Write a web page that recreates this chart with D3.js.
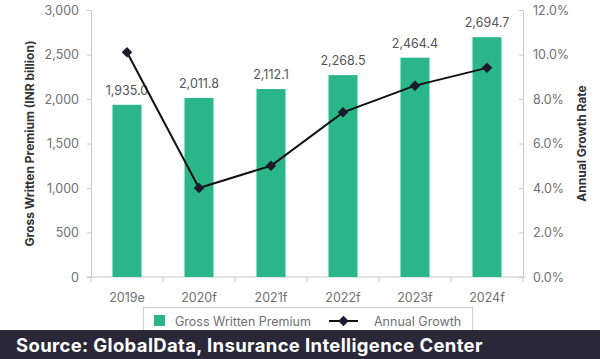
<!DOCTYPE html>
<html><head><meta charset="utf-8">
<script src="https://cdn.jsdelivr.net/npm/d3@7"></script>
<style>
html,body{margin:0;padding:0;background:#fff;}
svg{display:block;font-family:Inter, "Noto Sans", sans-serif;}
</style></head>
<body>
<script>
const categories = ["2019e","2020f","2021f","2022f","2023f","2024f"];
const premium = [1935.0, 2011.8, 2112.1, 2268.5, 2464.4, 2694.7];
const growth = [10.1, 4.0, 5.0, 7.4, 8.6, 9.4];
const leftTicks = [0,500,1000,1500,2000,2500,3000];
const rightTicks = [0,2,4,6,8,10,12];

const W=600,H=359;
const m={l:91,r:77,t:10,b:82};
const svg=d3.select("body").append("svg").attr("width",W).attr("height",H);
const xb=d3.scaleBand().domain(categories).range([m.l,W-m.r]);
const y=d3.scaleLinear().domain([0,3000]).range([H-m.b,m.t]);
const y2=d3.scaleLinear().domain([0,12]).range([H-m.b,m.t]);
const axisCol="#c8c8c8", txtCol="#707070";

// left axis
const ga=svg.append("g").attr("transform",`translate(${m.l},0)`)
  .call(d3.axisLeft(y).tickValues(leftTicks).tickFormat(d3.format(",")).tickSize(4).tickPadding(8));
ga.select(".domain").attr("stroke",axisCol);
ga.selectAll(".tick line").attr("stroke",axisCol);
ga.selectAll("text").attr("fill",txtCol).style("font-size","12.5px").style("font-family","Inter, sans-serif");

// right axis
const gr=svg.append("g").attr("transform",`translate(${W-m.r},0)`)
  .call(d3.axisRight(y2).tickValues(rightTicks).tickFormat(d=>d.toFixed(1)+"%").tickSize(0).tickPadding(10));
gr.select(".domain").attr("stroke",axisCol);
gr.selectAll(".tick").append("line").attr("x1",-4).attr("x2",0).attr("stroke",axisCol);
gr.selectAll("text").attr("fill",txtCol).style("font-size","12.5px").style("font-family","Inter, sans-serif");

// x axis
const gx=svg.append("g").attr("transform",`translate(0,${H-m.b})`);
gx.append("line").attr("x1",m.l-4).attr("x2",W-m.r+3).attr("stroke",axisCol);
gx.selectAll("line.bt").data(categories.concat(["end"])).enter().append("line").attr("class","bt")
  .attr("x1",(d,i)=>i<categories.length?xb(d):xb(categories[categories.length-1])+xb.bandwidth())
  .attr("x2",(d,i)=>i<categories.length?xb(d):xb(categories[categories.length-1])+xb.bandwidth())
  .attr("y1",0).attr("y2",5).attr("stroke",axisCol);
gx.selectAll("text").data(categories).enter().append("text")
  .attr("x",d=>xb(d)+xb.bandwidth()/2).attr("y",25).attr("text-anchor","middle")
  .attr("fill",txtCol).style("font-size","12.5px").text(d=>d);

// bars
svg.selectAll("rect.bar").data(premium).enter().append("rect").attr("class","bar")
  .attr("x",(d,i)=>xb(categories[i])+xb.bandwidth()/2-14.5).attr("width",29)
  .attr("y",d=>y(d)).attr("height",d=>y(0)-y(d)).attr("fill","#2bb68a");
svg.selectAll("text.lab").data(premium).enter().append("text").attr("class","lab")
  .attr("x",(d,i)=>xb(categories[i])+xb.bandwidth()/2).attr("y",d=>y(d)-10)
  .attr("text-anchor","middle").attr("fill","#555").style("font-size","12.5px")
  .text(d=>d3.format(",.1f")(d));

// line
const line=d3.line().x((d,i)=>xb(categories[i])+xb.bandwidth()/2).y(d=>y2(d));
svg.append("path").datum(growth).attr("d",line).attr("fill","none").attr("stroke","#111").attr("stroke-width",2);
svg.selectAll("path.pt").data(growth).enter().append("path").attr("class","pt")
  .attr("d",d3.symbol(d3.symbolDiamond2,70)())
  .attr("transform",(d,i)=>`translate(${xb(categories[i])+xb.bandwidth()/2},${y2(d)})`).attr("fill","#1a1a2a");

// axis titles
svg.append("text").attr("transform",`translate(34,${(m.t+H-m.b)/2}) rotate(-90)`)
  .attr("text-anchor","middle").attr("fill","#333").style("font-size","12px").style("font-weight","bold")
  .text("Gross Written Premium (INR billion)");
svg.append("text").attr("transform",`translate(586,${(m.t+H-m.b)/2}) rotate(-90)`)
  .attr("text-anchor","middle").attr("fill","#333").style("font-size","12px").style("font-weight","bold")
  .text("Annual Growth Rate");

// legend
svg.append("rect").attr("x",143.5).attr("y",307.5).attr("width",329).attr("height",30).attr("fill","#fff").attr("stroke","#d0d0d0");
svg.append("rect").attr("x",154).attr("y",315).attr("width",11).attr("height",11).attr("fill","#2bb68a");
svg.append("text").attr("x",175).attr("y",326).attr("fill",txtCol).style("font-size","12.5px").text("Gross Written Premium");
svg.append("line").attr("x1",329).attr("x2",358).attr("y1",321).attr("y2",321).attr("stroke","#111").attr("stroke-width",2);
svg.append("path").attr("d",d3.symbol(d3.symbolDiamond2,70)()).attr("transform","translate(343.5,321)").attr("fill","#1a1a2a");
svg.append("text").attr("x",374).attr("y",326).attr("fill",txtCol).style("font-size","12.5px").text("Annual Growth");

// footer
svg.append("rect").attr("x",0).attr("y",330).attr("width",W).attr("height",29).attr("fill","#2a2838");
svg.append("text").attr("x",16).attr("y",352).attr("fill","#fff").style("font-size","18.5px").style("font-weight","bold")
  .style("letter-spacing","0.35px")
  .style("font-family","Inter, sans-serif").text("Source: GlobalData, Insurance Intelligence Center");
</script>
</body></html>
